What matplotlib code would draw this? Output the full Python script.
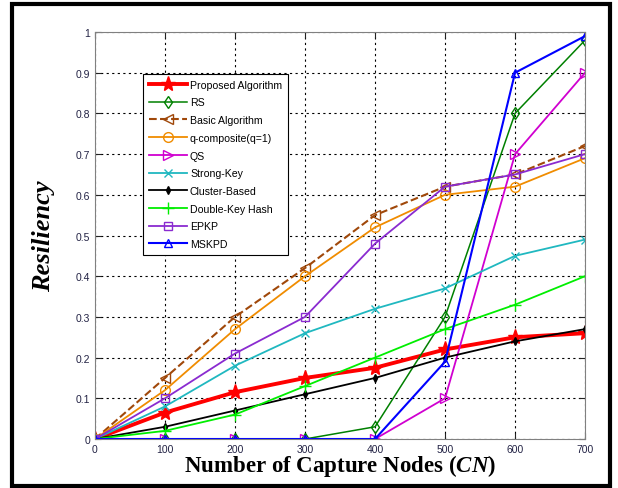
import matplotlib
matplotlib.use('Agg')
import matplotlib.pyplot as plt
from matplotlib.patches import Rectangle

plt.rcParams['mathtext.fontset'] = 'custom'
plt.rcParams['mathtext.it'] = 'Liberation Serif:italic:bold'
plt.rcParams['mathtext.rm'] = 'Liberation Serif:bold'

# data
nodes = [0, 100, 200, 300, 400, 500, 600, 700]
proposed = [0, 0.065, 0.115, 0.15, 0.175, 0.22, 0.25, 0.26]
rs = [0, 0, 0, 0, 0.03, 0.30, 0.80, 0.98]
basic = [0, 0.15, 0.30, 0.42, 0.55, 0.62, 0.65, 0.72]
q_composite = [0, 0.12, 0.27, 0.40, 0.52, 0.60, 0.62, 0.69]
qs = [0, 0, 0, 0, 0, 0.10, 0.70, 0.90]
strong_key = [0, 0.08, 0.18, 0.26, 0.32, 0.37, 0.45, 0.49]
cluster = [0, 0.03, 0.07, 0.11, 0.15, 0.20, 0.24, 0.27]
double_key = [0, 0.02, 0.06, 0.13, 0.20, 0.27, 0.33, 0.40]
epkp = [0, 0.10, 0.21, 0.30, 0.48, 0.62, 0.65, 0.70]
mskpd = [0, 0, 0, 0, 0, 0.19, 0.90, 0.99]

x_ticks = [0, 100, 200, 300, 400, 500, 600, 700]
y_ticks = [0, 0.1, 0.2, 0.3, 0.4, 0.5, 0.6, 0.7, 0.8, 0.9, 1]
y_tick_labels = ['0', '0.1', '0.2', '0.3', '0.4', '0.5', '0.6', '0.7', '0.8', '0.9', '1']

fig = plt.figure(figsize=(6.18, 4.89), dpi=100)
ax = fig.add_axes([0.1537, 0.1002, 0.793, 0.8323])

ax.plot(nodes, proposed, color='#FF0000', marker='*', ms=11, lw=2.8, label='Proposed Algorithm')
ax.plot(nodes, rs, color='#008000', marker='d', ms=6, mfc='none', lw=1.1, label='RS')
ax.plot(nodes, basic, color='#A0480A', marker='<', ms=7, mfc='none', lw=1.5, ls='--', label='Basic Algorithm')
ax.plot(nodes, q_composite, color='#F08C00', marker='o', ms=7, mfc='none', lw=1.3, label='q-composite(q=1)')
ax.plot(nodes, qs, color='#D000D0', marker='>', ms=7, mfc='none', lw=1.3, label='QS')
ax.plot(nodes, strong_key, color='#20B8C0', marker='x', ms=6, lw=1.3, label='Strong-Key')
ax.plot(nodes, cluster, color='black', marker='d', ms=4, lw=1.3, label='Cluster-Based')
ax.plot(nodes, double_key, color='#00EE00', marker='+', ms=8, lw=1.3, label='Double-Key Hash')
ax.plot(nodes, epkp, color='#8A2BD0', marker='s', ms=6, mfc='none', lw=1.3, label='EPKP')
ax.plot(nodes, mskpd, color='#0000FF', marker='^', ms=6, mfc='none', lw=1.5, label='MSKPD')

ax.set_xlim(0, 700)
ax.set_ylim(0, 1)
ax.set_xticks(x_ticks)
ax.set_yticks(y_ticks)
ax.set_yticklabels(y_tick_labels)
ax.tick_params(direction='in', top=True, right=True, labelsize=7.5, labelcolor='#222244',
               length=4, color='#222222')
for lbl in ax.get_xticklabels() + ax.get_yticklabels():
    lbl.set_family('Liberation Sans')
for s in ax.spines.values():
    s.set_color('#808080')
ax.grid(True, ls=(0, (2, 3)), color='black', lw=0.8)

ax.set_ylabel('Resiliency', family='Liberation Serif', fontsize=19, fontweight='bold',
              style='italic', labelpad=15)
ax.set_xlabel(r'Number of Capture Nodes ($\mathit{CN}$)', family='Liberation Serif',
              fontsize=16.5, fontweight='bold', labelpad=-1)

leg = ax.legend(loc='upper left', bbox_to_anchor=(0.098, 0.897), prop={'family': 'Liberation Sans', 'size': 7.6},
                handlelength=3.6, handletextpad=0.3, labelspacing=0.73, fancybox=False, framealpha=1,
                edgecolor='black', borderpad=0.55, borderaxespad=0)
leg.get_frame().set_linewidth(0.8)

fig.patches.append(Rectangle((12 / 618, 1 - 487 / 489), 598 / 618, 482 / 489,
                             transform=fig.transFigure, fill=False, ec='black', lw=3))

fig.savefig('out.png', dpi=100)
